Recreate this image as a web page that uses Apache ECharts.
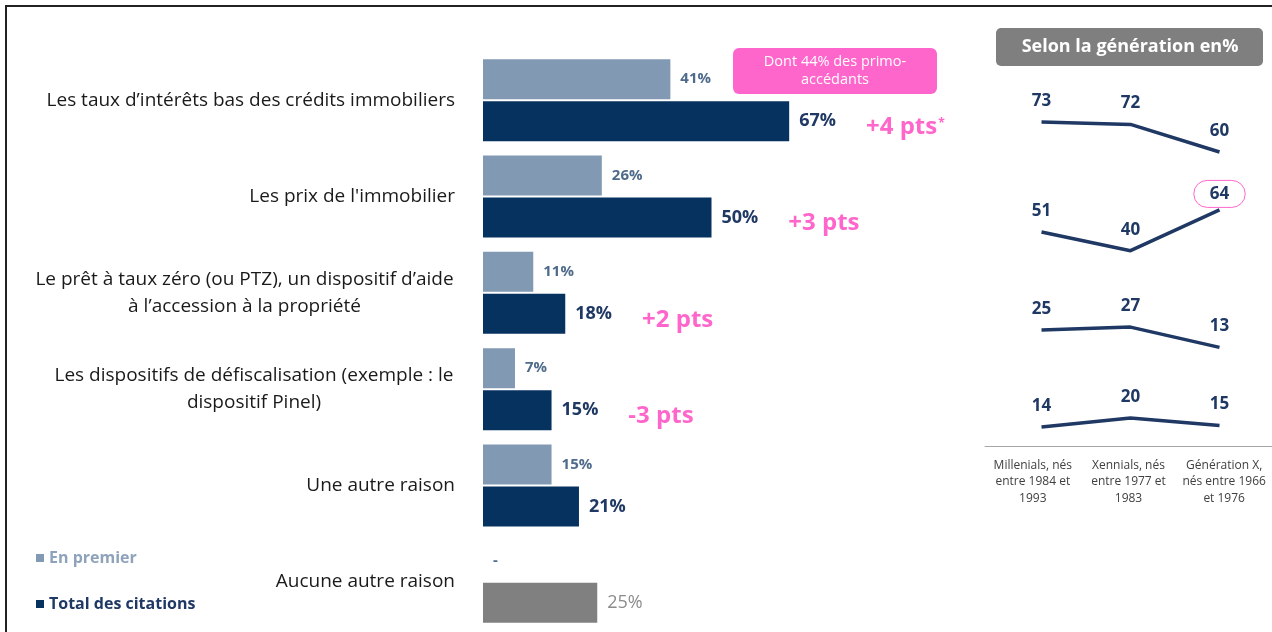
<!DOCTYPE html>
<html>
<head>
<meta charset="utf-8">
<script src="https://cdn.jsdelivr.net/npm/echarts@6/dist/echarts.min.js"></script>
<style>
  html, body { margin: 0; padding: 0; background: #fff; }
  #main { width: 1272px; height: 632px; }
</style>
</head>
<body>
<div id="main"></div>
<script>
// raisons (barres)
const categories = [
  "Les taux d’intérêts bas des crédits immobiliers",
  "Les prix de l'immobilier",
  "Le prêt à taux zéro (ou PTZ), un dispositif d’aide\nà l’accession à la propriété",
  "Les dispositifs de défiscalisation (exemple : le\ndispositif Pinel)",
  "Une autre raison",
  "Aucune autre raison"
]
const enPremier = [41, 26, 11, 7, 15, 0]
const totalCitations = [67, 50, 18, 15, 21, 25]
const evolutions = ["+4 pts*", "+3 pts", "+2 pts", "-3 pts", "", ""]

// selon la génération
const generations = [
  "Millenials, nés\nentre 1984 et\n1993",
  "Xennials, nés\nentre 1977 et\n1983",
  "Génération X,\nnés entre 1966\net 1976"
]
const genTaux = [73, 72, 60]
const genPrix = [51, 40, 64]
const genPtz = [25, 27, 13]
const genDefisc = [14, 20, 15]

const FONT = "'Open Sans', 'Noto Sans', sans-serif"
const CAT_SIZE = 19
const light = "#8199b3"
const dark = "#06325f"
const pink = "#ff66cc"

var chartDom = document.getElementById("main")
var myChart = echarts.init(chartDom)

// largeur de la 1re ligne des libellés sur deux lignes (2e ligne centrée dessous)
const measureCtx = document.createElement("canvas").getContext("2d")
measureCtx.font = CAT_SIZE + "px " + FONT
const catRich = {}
categories.forEach((c, i) => {
  if (c.indexOf("\n") >= 0) {
    catRich["c" + i] = {
      width: Math.ceil(measureCtx.measureText(c.split("\n")[0]).width) + 2,
      align: "center",
      fontFamily: FONT,
      fontSize: CAT_SIZE,
      color: "#1a1a1a",
      lineHeight: 27
    }
  }
})

// petites grilles de droite (une par ligne)
const lineGrids = [
  { top: 60, height: 230 },
  { top: 148.7, height: 170 },
  { top: 221.25, height: 145 },
  { top: 298, height: 150 }
]
const lineData = [genTaux, genPrix, genPtz, genDefisc]

const grids = [{ left: 483, width: 457, top: 52, height: 578 }]
lineGrids.forEach(g => grids.push({ left: 997, width: 267, top: g.top, height: g.height }))
grids.push({ left: 985, width: 290, top: 440, height: 6 })

const xAxes = [{ type: "value", gridIndex: 0, min: 0, max: 100, show: false }]
const yAxes = [{
  type: "category",
  gridIndex: 0,
  inverse: true,
  data: categories,
  axisLine: { show: false },
  axisTick: { show: false },
  axisLabel: {
    margin: 28,
    fontFamily: FONT,
    fontSize: CAT_SIZE,
    color: "#1a1a1a",
    lineHeight: 27,
    formatter: function (v, i) {
      if (v.indexOf("\n") < 0) return v
      return v.split("\n").map(s => "{c" + i + "|" + s + "}").join("\n")
    },
    rich: catRich
  }
}]
for (let i = 1; i <= 4; i++) {
  xAxes.push({ type: "category", gridIndex: i, data: generations, show: false })
  yAxes.push({ type: "value", gridIndex: i, min: 0, max: 100, show: false })
}
xAxes.push({
  type: "category",
  gridIndex: 5,
  data: generations,
  axisLine: { lineStyle: { color: "#a6a6a6", width: 1 } },
  axisTick: { length: 5, lineStyle: { color: "#a6a6a6" } },
  axisLabel: { margin: 11, fontFamily: FONT, fontSize: 12, lineHeight: 16.5, color: "#404040", interval: 0 }
})
yAxes.push({ type: "value", gridIndex: 5, show: false })

const series = [
  {
    name: "En premier",
    type: "bar",
    xAxisIndex: 0,
    yAxisIndex: 0,
    barWidth: 40,
    barGap: "5%",
    itemStyle: { color: light },
    data: enPremier,
    label: {
      show: true,
      position: "right",
      distance: 10,
      fontFamily: FONT,
      fontSize: 15,
      fontWeight: "bold",
      color: "#4f6b8c",
      formatter: p => (p.value === 0 ? "-" : p.value + "%")
    }
  },
  {
    name: "Total des citations",
    type: "bar",
    xAxisIndex: 0,
    yAxisIndex: 0,
    barWidth: 40,
    itemStyle: { color: dark },
    data: totalCitations.map((v, i) =>
      i === categories.length - 1 ? { value: v, itemStyle: { color: "#808080" } } : v
    ),
    label: {
      show: true,
      position: "right",
      distance: 10,
      formatter: function (p) {
        if (p.dataIndex === categories.length - 1) return "{g|" + p.value + "%}"
        let ev = evolutions[p.dataIndex]
        let s = "{v|" + p.value + "%}"
        if (ev) {
          let star = ev.endsWith("*")
          s += "{p|" + ev.replace("*", "") + "}"
          if (star) s += "{s|*}"
        }
        return s
      },
      rich: {
        v: { fontFamily: FONT, fontSize: 18, fontWeight: "bold", color: "#1f3864" },
        g: { fontFamily: FONT, fontSize: 18, color: "#8c8c8c" },
        p: { fontFamily: FONT, fontSize: 24, fontWeight: "bold", color: pink, padding: [12, 0, 0, 30] },
        s: { fontFamily: FONT, fontSize: 12, fontWeight: "bold", color: pink, padding: [4, 0, 0, 1] }
      }
    }
  }
]

lineData.forEach((d, i) => {
  series.push({
    type: "line",
    xAxisIndex: i + 1,
    yAxisIndex: i + 1,
    data: d.map((v, j) =>
      d === genPrix && j === 2
        ? {
            value: v,
            label: {
              borderColor: pink,
              borderWidth: 1,
              borderRadius: 16,
              padding: [5, 16],
              distance: 2
            }
          }
        : v
    ),
    symbol: "circle",
    symbolSize: 1,
    showSymbol: true,
    itemStyle: { color: "rgba(0,0,0,0)" },
    lineStyle: { color: "#1f3864", width: 3.5 },
    label: {
      show: true,
      position: "top",
      distance: 12,
      fontFamily: FONT,
      fontSize: 17,
      fontWeight: "bold",
      color: "#1f3864"
    },
    silent: true
  })
})

var option = {
  animation: false,
  textStyle: { fontFamily: FONT },
  legend: {
    orient: "vertical",
    left: 31,
    top: 545,
    itemGap: 30,
    icon: "rect",
    itemWidth: 8,
    itemHeight: 8,
    selectedMode: false,
    data: [
      { name: "En premier", textStyle: { color: "#8ea3bb" } },
      { name: "Total des citations", textStyle: { color: "#1f3864" } }
    ],
    textStyle: { fontFamily: FONT, fontSize: 16, fontWeight: "bold" }
  },
  grid: grids,
  xAxis: xAxes,
  yAxis: yAxes,
  series: series,
  graphic: [
    {
      type: "rect",
      shape: { x: 6, y: 6, width: 1400, height: 800 },
      style: { fill: "none", stroke: "#222", lineWidth: 2 },
      silent: true
    },
    {
      type: "rect",
      shape: { x: 733, y: 48, width: 204, height: 46, r: 6 },
      style: { fill: pink }
    },
    {
      type: "text",
      x: 835,
      y: 71,
      style: {
        text: "Dont 44% des primo-\naccédants",
        fill: "#fff",
        fontFamily: FONT,
        fontSize: 14.5,
        lineHeight: 18,
        align: "center",
        verticalAlign: "middle"
      }
    },
    {
      type: "rect",
      shape: { x: 996, y: 28, width: 267, height: 38, r: 5 },
      style: { fill: "#7f7f7f" }
    },
    {
      type: "text",
      x: 1130,
      y: 47,
      style: {
        text: "Selon la génération en%",
        fill: "#fff",
        fontFamily: FONT,
        fontSize: 18,
        fontWeight: "bold",
        align: "center",
        verticalAlign: "middle"
      }
    }
  ]
}

option && myChart.setOption(option)
</script>
</body>
</html>
